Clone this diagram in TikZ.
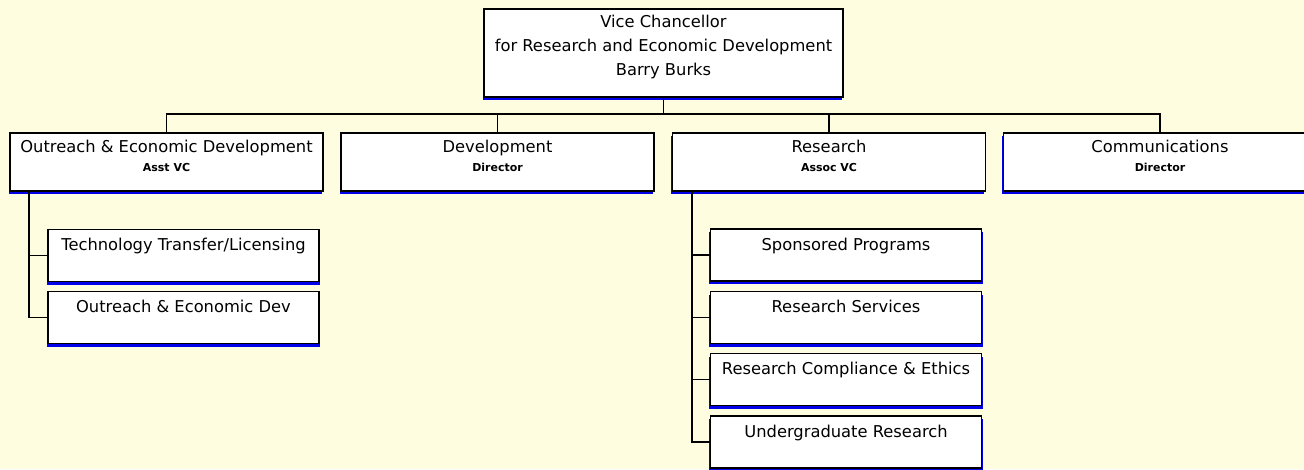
\documentclass[tikz,border=0pt]{standalone}
\usepackage{fontspec}
\setmainfont{DejaVu Sans}
\usetikzlibrary{shadows}

\definecolor{paper}{RGB}{255,253,224}
\definecolor{shade}{RGB}{0,0,235}
\def\pu{0.025cm}
\newcommand{\postfont}{\fontsize{7.8}{9}\selectfont\bfseries}

\tikzset{
  unit/.style={draw=black, line width=1.1pt, fill=white, rectangle, inner sep=0pt,
    drop shadow={shadow xshift=-0.8pt, shadow yshift=-2.2pt, fill=shade, opacity=1}},
  office/.style={unit, minimum width={313*\pu}, minimum height={58*\pu}},
  section/.style={unit, minimum width={271*\pu}, minimum height={52*\pu},
    drop shadow={shadow xshift=0.8pt, shadow yshift=-2.2pt, fill=shade, opacity=1}},
  title/.style={anchor=north, align=center, inner sep=0pt, font=\fontsize{11.6}{17}\selectfont},
  link/.style={line width=1pt, draw=black}
}

\begin{document}
\begin{tikzpicture}[x=\pu, y=-\pu]
	\fill[paper] (0,0) rectangle (1304,469);
	\useasboundingbox (0,0) rectangle (1304,469);

	% head of the unit
	\node[unit, minimum width={359*\pu}, minimum height={88*\pu}] (VC) at (663.5, 53) {};
	\node[title] (VCt) at ([yshift=-5pt]VC.north) {Vice Chancellor\\for Research and Economic Development\\Barry Burks};

	% offices reporting to the VC
	\node[office] (OED) at (166.5, 162) {};
	\node[office] (Dev) at (497.5, 162) {};
	\node[office] (Res) at (829, 162) {};
	\node[office] (Com) at (1160, 162) {};
	\node[title] (OEDt) at ([yshift=-5.5pt]OED.north) {Outreach \& Economic Development\\[-3.5pt]{\postfont Asst VC}};
	\node[title] (Devt) at ([yshift=-5.5pt]Dev.north) {Development\\[-3.5pt]{\postfont Director}};
	\node[title] (Rest) at ([yshift=-5.5pt]Res.north) {Research\\[-3.5pt]{\postfont Assoc VC}};
	\node[title] (Comt) at ([yshift=-5.5pt]Com.north) {Communications\\[-3.5pt]{\postfont Director}};

	% outreach sections
	\node[section] (TT) at (183.5, 255.5) {};
	\node[section] (OE) at (183.5, 317.5) {};
	\node[title] (TTt) at ([yshift=-6.5pt]TT.north) {Technology Transfer/Licensing};
	\node[title] (OEt) at ([yshift=-6.5pt]OE.north) {Outreach \& Economic Dev};

	% research sections
	\node[section] (SP) at (846, 255) {};
	\node[section] (RS) at (846, 317.5) {};
	\node[section] (RC) at (846, 379.5) {};
	\node[section] (UR) at (846, 442) {};
	\node[title] (SPt) at ([yshift=-6.5pt]SP.north) {Sponsored Programs};
	\node[title] (RSt) at ([yshift=-6.5pt]RS.north) {Research Services};
	\node[title] (RCt) at ([yshift=-6.5pt]RC.north) {Research Compliance \& Ethics};
	\node[title] (URt) at ([yshift=-6.5pt]UR.north) {Undergraduate Research};

	% connectors
	\coordinate (bus) at (663.5, 114);
	\coordinate (oedtrunk) at (29, 191);
	\coordinate (restrunk) at (692, 191);
	\draw[link] (VC.south) -- (bus);
	\draw[link] (OED.north) |- (Com.north |- bus) -- (Com.north);
	\draw[link] (Dev.north) -- (Dev.north |- bus);
	\draw[link] (Res.north) -- (Res.north |- bus);
	\draw[link] (oedtrunk) |- (OE.west);
	\draw[link] (TT.west) -- (TT.west -| oedtrunk);
	\draw[link] (restrunk) |- (UR.west);
	\draw[link] (SP.west) -- (SP.west -| restrunk);
	\draw[link] (RS.west) -- (RS.west -| restrunk);
	\draw[link] (RC.west) -- (RC.west -| restrunk);
\end{tikzpicture}
\end{document}
